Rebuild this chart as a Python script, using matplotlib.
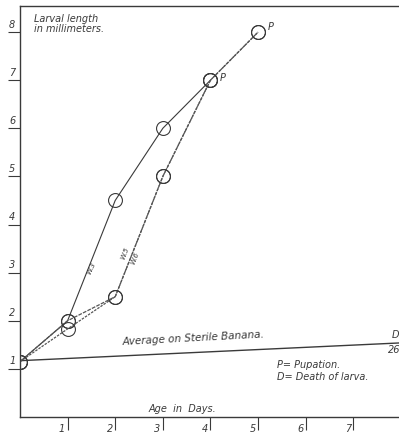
import matplotlib.pyplot as plt
import matplotlib.transforms as mtransforms

plt.rcParams['font.family'] = ['DejaVu Sans']

days = [0, 1, 2, 3, 4, 5]
w3 = [1.15, 2.0, 4.5, 6.0, 7.0]
w5 = [1.15, 2.0, 2.5, 5.0, 7.0, 8.0]
w6 = [1.15, 1.83, 2.5, 5.0, 7.0, 8.0]
avg_days = [0, 8]
avg_len = [1.17, 1.54]
x_ticks = [1, 2, 3, 4, 5, 6, 7]
y_ticks = [1, 2, 3, 4, 5, 6, 7, 8]

ink = '#3a3a3a'

fig = plt.figure(figsize=(3.99, 4.33), dpi=100)
ax = fig.add_axes([0.05, 0.037, 0.955, 0.949])
ax.set_xlim(0, 8.0)
ax.set_ylim(0, 8.54)

# lines
ax.plot(avg_days, avg_len, color=ink, lw=1.0)
ax.plot(days[:len(w3)], w3, color=ink, lw=0.8, marker='o', ms=10,
        mfc='none', mec=ink, mew=0.8)
ax.plot(days, w5, color='#555555', lw=0.9, ls=(0, (3, 1)), marker='o',
        ms=10, mfc='none', mec=ink, mew=0.8)
ax.plot(days, w6, color='#555555', lw=0.9, ls=(0, (2, 1)), marker='o',
        ms=10, mfc='none', mec=ink, mew=0.8)

# spines and ticks
ax.spines['right'].set_visible(False)
for s in ['left', 'bottom', 'top']:
    ax.spines[s].set_color(ink)
    ax.spines[s].set_linewidth(1.0)
ax.set_xticks(x_ticks)
ax.set_yticks(y_ticks)
ax.set_xticklabels([])
ax.set_yticklabels([])
ax.tick_params(axis='x', direction='out', length=9, width=0.8, color=ink)
ax.tick_params(axis='y', direction='out', length=9, width=0.8, color=ink)

tx = mtransforms.blended_transform_factory(ax.transData, ax.transAxes)
ty = mtransforms.blended_transform_factory(ax.transAxes, ax.transData)
for d in x_ticks:
    ax.text(d - 0.05, -0.018, str(d), transform=tx, ha='right', va='top',
            fontsize=7, style='italic', color=ink)
for v in y_ticks:
    ax.text(-0.012, v + 0.05, str(v), transform=ty, ha='right', va='bottom',
            fontsize=7, style='italic', color=ink)

# annotations
txt = dict(style='italic', color=ink, fontsize=7)
ax.text(0.3, 8.38, 'Larval length\nin millimeters.', ha='left', va='top',
        linespacing=1.0, **txt)
ax.text(1.5, 3.1, 'W.3', rotation=65, ha='center', va='center', fontsize=5,
        style='italic', color=ink)
ax.text(2.2, 3.4, 'W.5', rotation=68, ha='center', va='center', fontsize=5,
        style='italic', color=ink)
ax.text(2.42, 3.3, 'W.6', rotation=68, ha='center', va='center', fontsize=5,
        style='italic', color=ink)
ax.text(4.2, 7.05, 'P', ha='left', va='center', **txt)
ax.text(5.2, 8.1, 'P', ha='left', va='center', **txt)
ax.text(2.15, 1.45, 'Average on Sterile Banana.', rotation=3, ha='left',
        va='bottom', fontsize=7.5, style='italic', color=ink)
ax.text(7.8, 1.6, 'D', ha='left', va='bottom', **txt)
ax.text(7.72, 1.5, '26', ha='left', va='top', **txt)
ax.text(5.4, 0.95, 'P= Pupation.\nD= Death of larva.', ha='left', va='center',
        linespacing=1.2, **txt)
ax.text(2.7, 0.06, 'Age  in  Days.', ha='left', va='bottom', **txt)

fig.savefig('out.png', dpi=100)
